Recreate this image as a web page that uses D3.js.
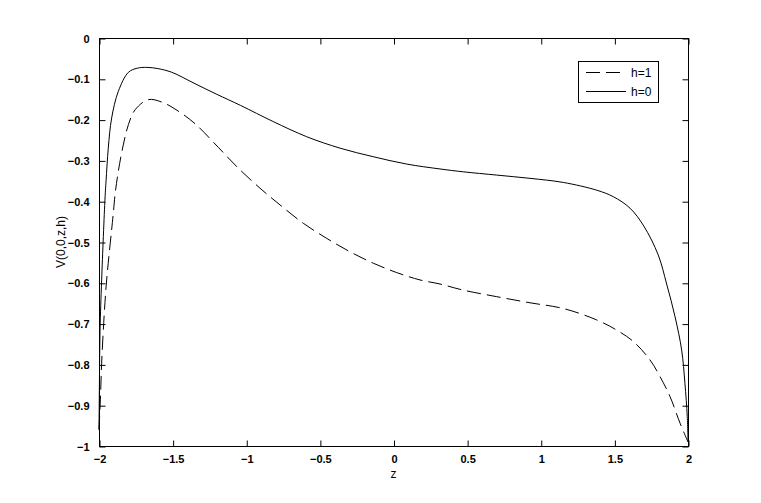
<!DOCTYPE html>
<html>
<head>
<meta charset="utf-8">
<script src="https://cdn.jsdelivr.net/npm/d3@7"></script>
<style>
  html, body { margin: 0; padding: 0; background: #fff; }
  svg { display: block; }
</style>
</head>
<body>
<svg id="chart" width="761" height="503"></svg>
<script>
// ---- data ----
const xTicks = [-2, -1.5, -1, -0.5, 0, 0.5, 1, 1.5, 2];
const yTicks = [0, -0.1, -0.2, -0.3, -0.4, -0.5, -0.6, -0.7, -0.8, -0.9, -1];

const seriesNames = ["h=1", "h=0"];

const zH0 = [-2, -1.997, -1.993, -1.982, -1.959, -1.952, -1.937, -1.914, -1.869, -1.80, -1.74, -1.676, -1.60, -1.506, -1.348, -1.2, -1.04, -0.816, -0.589, -0.363, -0.137, 0.09, 0.316, 0.474, 0.701, 0.927, 1.153, 1.38, 1.493, 1.606, 1.70, 1.798, 1.855, 1.912, 1.957, 1.979, 1.995, 2];
const vH0 = [-0.96, -0.84, -0.716, -0.593, -0.392, -0.35, -0.27, -0.196, -0.131, -0.084, -0.074, -0.072, -0.075, -0.084, -0.112, -0.138, -0.165, -0.205, -0.242, -0.270, -0.291, -0.309, -0.321, -0.328, -0.336, -0.344, -0.354, -0.373, -0.389, -0.417, -0.461, -0.532, -0.603, -0.683, -0.765, -0.846, -0.928, -0.99];

const zH1 = [-2, -1.99, -1.982, -1.964, -1.948, -1.903, -1.891, -1.869, -1.835, -1.80, -1.755, -1.665, -1.574, -1.484, -1.348, -1.19, -1.054, -0.907, -0.771, -0.613, -0.454, -0.295, -0.137, 0.022, 0.18, 0.316, 0.474, 0.701, 0.927, 1.153, 1.38, 1.516, 1.629, 1.742, 1.81, 1.878, 1.946, 2];
const vH1 = [-0.96, -0.88, -0.797, -0.674, -0.593, -0.43, -0.384, -0.327, -0.262, -0.212, -0.176, -0.151, -0.157, -0.174, -0.210, -0.268, -0.319, -0.368, -0.409, -0.454, -0.491, -0.524, -0.552, -0.575, -0.593, -0.603, -0.618, -0.634, -0.649, -0.663, -0.691, -0.716, -0.744, -0.789, -0.83, -0.879, -0.944, -0.99];

// ---- layout ----
const svg = d3.select("#chart");
const L = 99, R = 688, T = 38, B = 446;
const x = d3.scaleLinear().domain([-2, 2]).range([L, R]);
const y = d3.scaleLinear().domain([-1, 0]).range([B, T]);
const tickFont = "'Liberation Sans', Arial, sans-serif";

// axes box
svg.append("rect").attr("x", L + 0.5).attr("y", T + 0.5)
  .attr("width", R - L).attr("height", B - T)
  .attr("fill", "none").attr("stroke", "#000").attr("stroke-width", 1);

const fmt = d => d3.format("")(d);
const xb = svg.append("g").attr("transform", `translate(0.5,${B + 0.5})`)
  .call(d3.axisBottom(x).tickValues(xTicks).tickSizeInner(-6).tickSizeOuter(0).tickPadding(9).tickFormat(fmt));
const xt = svg.append("g").attr("transform", `translate(0.5,${T + 0.5})`)
  .call(d3.axisTop(x).tickValues(xTicks).tickSizeInner(-6).tickSizeOuter(0).tickFormat(""));
const yl = svg.append("g").attr("transform", `translate(${L + 0.5},0.5)`)
  .call(d3.axisLeft(y).tickValues(yTicks).tickSizeInner(-6).tickSizeOuter(0).tickPadding(10).tickFormat(fmt));
const yr = svg.append("g").attr("transform", `translate(${R + 0.5},0.5)`)
  .call(d3.axisRight(y).tickValues(yTicks).tickSizeInner(-6).tickSizeOuter(0).tickFormat(""));

[xb, xt, yl, yr].forEach(g => {
  g.select(".domain").remove();
  g.selectAll(".tick line").attr("stroke", "#000");
  g.selectAll("text").attr("font-family", tickFont).attr("font-size", 11)
    .attr("font-weight", "bold").attr("fill", "#000");
});

// curves
const line = d3.line().x(d => x(d[0])).y(d => y(d[1])).curve(d3.curveCatmullRom.alpha(0.5));
const dataH1 = zH1.map((z, i) => [z, vH1[i]]);
const dataH0 = zH0.map((z, i) => [z, vH0[i]]);

svg.append("path").datum(dataH1).attr("d", line)
  .attr("fill", "none").attr("stroke", "#000").attr("stroke-width", 1)
  .attr("stroke-dasharray", "14,6");
svg.append("path").datum(dataH0).attr("d", line)
  .attr("fill", "none").attr("stroke", "#000").attr("stroke-width", 1);

// axis labels
svg.append("text").attr("x", x(0)).attr("y", 478).attr("text-anchor", "middle")
  .attr("font-family", tickFont).attr("font-size", 12).text("z");
svg.append("text").attr("transform", `translate(65,${(T + B) / 2}) rotate(-90)`)
  .attr("text-anchor", "middle").attr("font-family", tickFont).attr("font-size", 12)
  .text("V(0,0,z,h)");

// legend
const lg = svg.append("g");
lg.append("rect").attr("x", 578.5).attr("y", 61.5).attr("width", 80).attr("height", 41)
  .attr("fill", "#fff").attr("stroke", "#000").attr("stroke-width", 1);
const legY = [72.5, 91.5];
const dashes = ["14,6", null];
seriesNames.forEach((name, i) => {
  lg.append("line").attr("x1", 586).attr("x2", 626).attr("y1", legY[i]).attr("y2", legY[i])
    .attr("stroke", "#000").attr("stroke-width", 1)
    .attr("stroke-dasharray", dashes[i]);
  lg.append("text").attr("x", 631).attr("y", legY[i] + 4.5)
    .attr("font-family", tickFont).attr("font-size", 12).text(name);
});
</script>
</body>
</html>
